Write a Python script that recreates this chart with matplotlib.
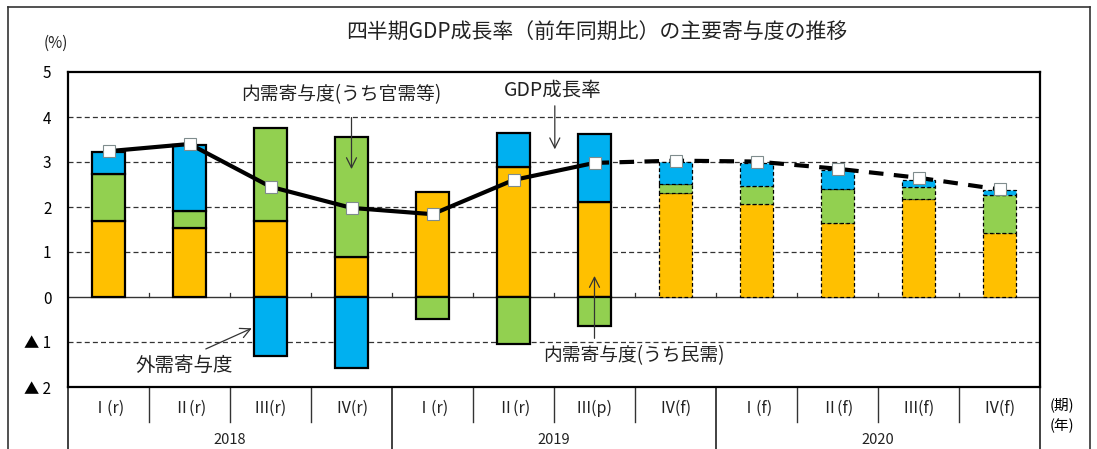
import matplotlib
matplotlib.use("Agg")
import matplotlib.pyplot as plt
import numpy as np
from matplotlib.lines import Line2D

plt.rcParams['font.family'] = ['Noto Sans CJK JP', 'DejaVu Sans']

# ---- data ----
quarters = ["Ⅰ(r)", "Ⅱ(r)", "Ⅲ(r)", "Ⅳ(r)", "Ⅰ(r)", "Ⅱ(r)", "Ⅲ(p)", "Ⅳ(f)",
            "Ⅰ(f)", "Ⅱ(f)", "Ⅲ(f)", "Ⅳ(f)"]
years = ["2018", "2019", "2020"]
private_demand = [1.68, 1.54, 1.70, 0.90, 2.33, 2.89, 2.12, 2.31, 2.07, 1.64, 2.18, 1.42]
public_demand = [1.05, 0.38, 2.06, 2.65, -0.48, -1.04, -0.64, 0.21, 0.40, 0.77, 0.27, 0.85]
external_demand = [0.49, 1.46, -1.30, -1.58, 0.00, 0.76, 1.50, 0.47, 0.50, 0.41, 0.15, 0.11]
gdp_growth = [3.24, 3.40, 2.45, 1.98, 1.84, 2.60, 2.98, 3.03, 3.01, 2.85, 2.65, 2.39]
n_actual = 7  # actual quarters (rest are forecasts)

ytick_vals = [5, 4, 3, 2, 1, 0, -1, -2]
ytick_labels = ["5", "4", "3", "2", "1", "0", "▲ 1", "▲ 2"]

title = "四半期GDP成長率（前年同期比）の主要寄与度の推移"

col_private = "#FFC000"
col_public = "#92D050"
col_external = "#00B0F0"

W, H = 1097, 449
fig = plt.figure(figsize=(W / 100, H / 100), dpi=100)
ax_l, ax_r, ax_t, ax_b = 68, 1040, 72, 387
ax = fig.add_axes([ax_l / W, 1 - ax_b / H, (ax_r - ax_l) / W, (ax_b - ax_t) / H])

x = np.arange(len(quarters))
comps = [(private_demand, col_private), (public_demand, col_public), (external_demand, col_external)]
pos_base = np.zeros(len(x))
neg_base = np.zeros(len(x))
bw = 0.41
for vals, col in comps:
    vals = np.array(vals)
    bottoms = np.where(vals >= 0, pos_base, neg_base)
    for i in range(len(x)):
        if vals[i] == 0:
            continue
        if i < n_actual:
            ax.bar(x[i], vals[i], bottom=bottoms[i], width=bw, color=col,
                   edgecolor="black", linewidth=1.6, zorder=3)
        else:
            ax.bar(x[i], vals[i], bottom=bottoms[i], width=bw, color=col,
                   edgecolor="black", linewidth=0.9, linestyle=(0, (3, 2)), zorder=3)
    pos_base = pos_base + np.where(vals >= 0, vals, 0)
    neg_base = neg_base + np.where(vals < 0, vals, 0)

# GDP line
ax.plot(x[:n_actual], gdp_growth[:n_actual], color="black", lw=3.0, zorder=4,
        solid_capstyle="round")
ax.plot(x[n_actual - 1:], gdp_growth[n_actual - 1:], color="black", lw=3.0,
        linestyle=(0, (3.5, 2.5)), zorder=4)
ax.plot(x, gdp_growth, linestyle="none", marker="s", markersize=8.5,
        markerfacecolor="white", markeredgecolor="#7f8c8d", markeredgewidth=0.8, zorder=5)

# grid
for gy in [4, 3, 2, 1, -1]:
    ax.axhline(gy, color="#333333", lw=0.9, linestyle=(0, (4, 2.5)), zorder=1)
ax.axhline(0, color="#333333", lw=1.0, zorder=2)
# small ticks on zero line at category boundaries
for k in range(1, len(x)):
    ax.plot([k - 0.5, k - 0.5], [0, 0.1], color="#333333", lw=0.9, zorder=2)

ax.set_xlim(-0.5, len(x) - 0.5)
ax.set_ylim(-2, 5)
ax.set_yticks(ytick_vals)
ax.set_yticklabels(ytick_labels, fontsize=11)
ax.tick_params(axis="y", length=0, pad=12)
ax.set_xticks([])
for s in ax.spines.values():
    s.set_linewidth(1.6)

# category band
band_in = -35 / 315
band_out = -62 / 315
tr = ax.get_xaxis_transform()
for k in range(len(x) + 1):
    edge = k - 0.5
    bottom = band_out if k % 4 == 0 else band_in
    ax.add_line(Line2D([edge, edge], [0, bottom], transform=tr, color="#333333",
                       lw=1.3 if k % 4 == 0 else 1.0, clip_on=False))
for i, q in enumerate(quarters):
    ax.text(x[i], -21 / 315, q, transform=tr, ha="center", va="center",
            fontsize=11.5, color="#222222")
for j, yr in enumerate(years):
    ax.text(4 * j + 1.5, -53 / 315, yr, transform=tr, ha="center", va="center",
            fontsize=10.5, color="#222222")
fig.text(1062 / W, 1 - 405 / H, "(期)", ha="center", va="center", fontsize=10.5)
fig.text(1062 / W, 1 - 426 / H, "(年)", ha="center", va="center", fontsize=10.5)

# annotations
arrow_kw = dict(arrowstyle="->", color="#333333", lw=0.9, mutation_scale=18)
ax.text(2.87, 4.49, "内需寄与度(うち官需等)", ha="center", va="center", fontsize=13.5, color="#222222")
ax.annotate("", xy=(3.0, 2.78), xytext=(3.0, 4.05), arrowprops=arrow_kw, zorder=6)
ax.text(5.49, 4.6, "GDP成長率", ha="center", va="center", fontsize=14, color="#222222")
ax.annotate("", xy=(5.51, 3.22), xytext=(5.51, 4.31), arrowprops=arrow_kw, zorder=6)
ax.text(0.94, -1.51, "外需寄与度", ha="center", va="center", fontsize=14, color="#222222")
ax.annotate("", xy=(1.8, -0.67), xytext=(1.17, -1.18), arrowprops=arrow_kw, zorder=6)
ax.text(5.36, -1.30, "内需寄与度(うち民需)", ha="left", va="center", fontsize=13.5, color="#222222")
ax.annotate("", xy=(6.0, 0.53), xytext=(6.0, -0.98), arrowprops=arrow_kw, zorder=6)

# title and unit
fig.text(597 / W, 1 - 33 / H, title, ha="center", va="center", fontsize=15, color="#222222")
fig.text(56 / W, 1 - 43 / H, "(%)", ha="center", va="center", fontsize=11, color="#222222")

# outer frame
fl, fr, ft = 8 / W, 1090 / W, 1 - 7 / H
for xs, ys in [([fl, fl], [0, ft]), ([fl, fr], [ft, ft]), ([fr, fr], [ft, 0])]:
    fig.add_artist(Line2D(xs, ys, transform=fig.transFigure, color="#333333", lw=1.2))

fig.savefig("out.png", dpi=100, facecolor="white")
